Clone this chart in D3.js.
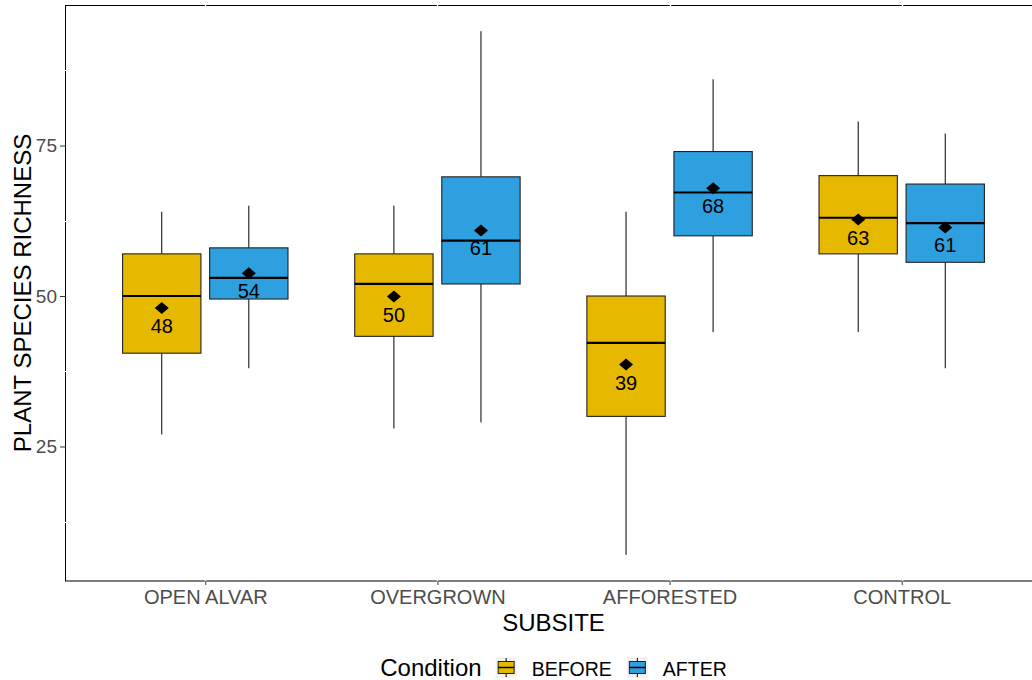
<!DOCTYPE html>
<html>
<head>
<meta charset="utf-8">
<script src="https://cdn.jsdelivr.net/npm/d3@7"></script>
<style>
  body { margin: 0; background: #fff; }
  text { font-family: "Liberation Sans", Arial, sans-serif; }
</style>
</head>
<body>
<div id="chart"></div>
<script>
// categories
var subsites = ['OPEN ALVAR', 'OVERGROWN', 'AFFORESTED', 'CONTROL'];
var conditions = ['BEFORE', 'AFTER'];
var conditionColors = ['#E7B800', '#2E9FDF'];

// box stats, one value per subsite
var beforeLow = [27, 28, 7, 44];
var beforeQ1 = [40.5, 43.3, 30, 57];
var beforeMedian = [50, 52, 42.2, 63];
var beforeQ3 = [57, 57, 50, 70];
var beforeHigh = [64, 65, 64, 79];
var beforeMean = [48, 49.9, 38.6, 62.7];

var afterLow = [38, 29, 44, 38];
var afterQ1 = [49.5, 52, 60, 55.6];
var afterMedian = [53, 59.2, 67.2, 62.1];
var afterQ3 = [58, 69.8, 74, 68.6];
var afterHigh = [65, 94, 86, 77];
var afterMean = [53.8, 60.9, 67.9, 61.4];

var yTicks = [25, 50, 75];
var yMinor = [12.5, 37.5, 62.5, 87.5];

// build rows for the boxes
var boxes = [];
subsites.forEach(function(s, i) {
  boxes.push({subsite: s, condition: 'BEFORE', low: beforeLow[i], q1: beforeQ1[i],
    median: beforeMedian[i], q3: beforeQ3[i], high: beforeHigh[i], mean: beforeMean[i]});
  boxes.push({subsite: s, condition: 'AFTER', low: afterLow[i], q1: afterQ1[i],
    median: afterMedian[i], q3: afterQ3[i], high: afterHigh[i], mean: afterMean[i]});
});

var width = 1032, height = 680;
var panel = {left: 66, right: 1041, top: 5, bottom: 581};

var svg = d3.select('#chart')
  .append('svg')
  .attr('width', width)
  .attr('height', height);

// scales
var x = d3.scalePoint()
  .domain(subsites)
  .range([panel.left, panel.right])
  .padding(0.6);

var x1 = d3.scaleBand()
  .domain(conditions)
  .range([-x.step() * 0.375, x.step() * 0.375])
  .paddingInner(0.1)
  .paddingOuter(0.05);

var yMin = d3.min(boxes, function(d) { return d.low; });
var yMax = d3.max(boxes, function(d) { return d.high; });
var pad = (yMax - yMin) * 0.05;
var y = d3.scaleLinear()
  .domain([yMin - pad, yMax + pad])
  .range([panel.bottom, panel.top]);

var color = d3.scaleOrdinal().domain(conditions).range(conditionColors);

// panel outline
svg.append('rect')
  .attr('x', panel.left - 0.5)
  .attr('y', panel.top + 0.5)
  .attr('width', panel.right - panel.left)
  .attr('height', panel.bottom - panel.top - 0.5)
  .attr('fill', 'white')
  .attr('stroke', 'black')
  .attr('stroke-width', 1);

// white grid lines (only show where they cross the outline)
svg.selectAll('.gridMinor')
  .data(yMinor)
  .enter()
  .append('line')
  .attr('x1', panel.left - 1).attr('x2', panel.right)
  .attr('y1', function(d) { return Math.round(y(d)) + 0.5; })
  .attr('y2', function(d) { return Math.round(y(d)) + 0.5; })
  .attr('stroke', 'white')
  .attr('stroke-width', 1);

svg.selectAll('.gridMajorX')
  .data(subsites)
  .enter()
  .append('line')
  .attr('x1', function(d) { return Math.round(x(d)) + 0.5; })
  .attr('x2', function(d) { return Math.round(x(d)) + 0.5; })
  .attr('y1', panel.top).attr('y2', panel.bottom + 1)
  .attr('stroke', 'white')
  .attr('stroke-width', 1.4);

// y axis ticks and labels
var yAxis = svg.append('g')
  .attr('transform', 'translate(' + panel.left + ',0)')
  .call(d3.axisLeft(y).tickValues(yTicks).tickSize(6).tickPadding(3));
yAxis.select('.domain').remove();
yAxis.selectAll('line').attr('stroke', '#333');
yAxis.selectAll('text')
  .attr('fill', '#4D4D4D')
  .style('font-size', '19px')
  .style('font-family', '"Liberation Sans", Arial, sans-serif');

// x axis ticks and labels
var xAxis = svg.append('g')
  .attr('transform', 'translate(0,' + panel.bottom + ')')
  .call(d3.axisBottom(x).tickSize(4).tickPadding(5));
xAxis.select('.domain').remove();
xAxis.selectAll('line').attr('stroke', '#333');
xAxis.selectAll('text')
  .attr('fill', '#4D4D4D')
  .style('font-size', '20px')
  .style('font-family', '"Liberation Sans", Arial, sans-serif');

// boxes
var groups = svg.selectAll('.box')
  .data(boxes)
  .enter()
  .append('g')
  .attr('class', 'box')
  .attr('transform', function(d) {
    return 'translate(' + (x(d.subsite) + x1(d.condition) + x1.bandwidth() / 2) + ',0)';
  });

var bw = x1.bandwidth();

// whiskers
groups.append('line')
  .attr('x1', 0).attr('x2', 0)
  .attr('y1', function(d) { return y(d.high); })
  .attr('y2', function(d) { return y(d.q3); })
  .attr('stroke', 'black');
groups.append('line')
  .attr('x1', 0).attr('x2', 0)
  .attr('y1', function(d) { return y(d.q1); })
  .attr('y2', function(d) { return y(d.low); })
  .attr('stroke', 'black');

groups.append('rect')
  .attr('x', -bw / 2)
  .attr('width', bw)
  .attr('y', function(d) { return y(d.q3); })
  .attr('height', function(d) { return y(d.q1) - y(d.q3); })
  .attr('fill', function(d) { return color(d.condition); })
  .attr('stroke', '#222')
  .attr('stroke-width', 1.1);

// median
groups.append('line')
  .attr('x1', -bw / 2).attr('x2', bw / 2)
  .attr('y1', function(d) { return y(d.median); })
  .attr('y2', function(d) { return y(d.median); })
  .attr('stroke', 'black')
  .attr('stroke-width', 2.2);

// mean diamond
groups.append('path')
  .attr('d', 'M0,-6L7,0L0,6L-7,0Z')
  .attr('transform', function(d) { return 'translate(0,' + y(d.mean) + ')'; })
  .attr('fill', 'black');

// mean label
groups.append('text')
  .attr('x', 0)
  .attr('y', function(d) { return y(d.mean) + 25; })
  .attr('text-anchor', 'middle')
  .style('font-size', '20px')
  .attr('fill', 'black')
  .text(function(d) { return d3.format('.0f')(d.mean); });

// axis titles
svg.append('text')
  .attr('transform', 'translate(31,' + ((panel.top + panel.bottom) / 2) + ') rotate(-90)')
  .attr('text-anchor', 'middle')
  .style('font-size', '24px')
  .text('PLANT SPECIES RICHNESS');

svg.append('text')
  .attr('x', (panel.left + panel.right) / 2)
  .attr('y', 631)
  .attr('text-anchor', 'middle')
  .style('font-size', '24px')
  .text('SUBSITE');

// legend
var legend = svg.append('g');
var title = legend.append('text')
  .attr('x', 0).attr('y', 676)
  .style('font-size', '24px')
  .text('Condition');
var cursor = title.node().getComputedTextLength() + 14;
var keySize = 21;

conditions.forEach(function(c) {
  var key = legend.append('g').attr('transform', 'translate(' + cursor + ',657)');
  key.append('rect')
    .attr('width', keySize).attr('height', keySize)
    .attr('fill', '#F2F2F2');
  key.append('line')
    .attr('x1', keySize / 2).attr('x2', keySize / 2)
    .attr('y1', 1).attr('y2', keySize - 1)
    .attr('stroke', 'black');
  key.append('rect')
    .attr('x', 2.5).attr('y', 4.5)
    .attr('width', keySize - 5).attr('height', keySize - 9)
    .attr('fill', color(c))
    .attr('stroke', '#222');
  key.append('line')
    .attr('x1', 2.5).attr('x2', keySize - 2.5)
    .attr('y1', keySize / 2).attr('y2', keySize / 2)
    .attr('stroke', 'black')
    .attr('stroke-width', 1.5);
  cursor += keySize + 15;
  var lbl = legend.append('text')
    .attr('x', cursor).attr('y', 676)
    .style('font-size', '19.5px')
    .text(c);
  cursor += lbl.node().getComputedTextLength() + 15;
});
var legendWidth = cursor - 15;
legend.attr('transform', 'translate(' + ((panel.left + panel.right) / 2 - legendWidth / 2) + ',0)');
</script>
</body>
</html>
